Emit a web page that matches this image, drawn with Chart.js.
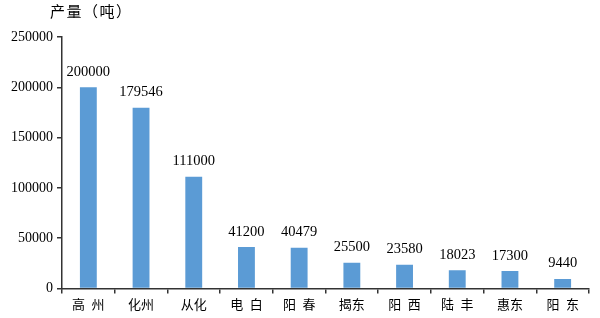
<!DOCTYPE html>
<html>
<head>
<meta charset="utf-8">
<script src="https://cdn.jsdelivr.net/npm/chart.js@4"></script>
<style>
  html, body { margin: 0; padding: 0; background: #fff; }
  #wrap { width: 600px; height: 318px; position: relative; }
</style>
</head>
<body>
<div id="wrap"><canvas id="c"></canvas></div>
<script>
// output by region, tonnes
const regions = ["高\u2002州", "化州", "从化", "电\u2002白", "阳\u2002春", "揭东", "阳\u2002西", "陆\u2002丰", "惠东", "阳\u2002东"];
const output = [200000, 179546, 111000, 41200, 40479, 25500, 23580, 18023, 17300, 9440];
const yTicks = [0, 50000, 100000, 150000, 200000, 250000];
const unitLabel = "产量（吨）";

const serif = "'Liberation Serif', 'Noto Sans CJK SC', serif";

// value above each bar + unit label at the top left
const labelsPlugin = {
  id: "barLabels",
  afterDatasetsDraw(chart) {
    const ctx = chart.ctx;
    const meta = chart.getDatasetMeta(0);
    ctx.save();
    ctx.fillStyle = "#000";
    ctx.font = "14.5px " + serif;
    ctx.textAlign = "center";
    ctx.textBaseline = "bottom";
    meta.data.forEach((bar, i) => {
      ctx.fillText(String(output[i]), bar.x, bar.y - 8);
    });
    ctx.font = "15px " + serif;
    ctx.letterSpacing = "1.5px";
    ctx.textAlign = "left";
    ctx.textBaseline = "middle";
    ctx.fillText(unitLabel, 50, 13);
    ctx.restore();
  }
};

new Chart(document.getElementById("c"), {
  type: "bar",
  data: {
    labels: regions,
    datasets: [{
      data: output,
      backgroundColor: "#5B9BD5",
      categoryPercentage: 1,
      barPercentage: 0.32
    }]
  },
  options: {
    responsive: true,
    maintainAspectRatio: false,
    animation: false,
    layout: { padding: { top: 37, right: 11, left: 0, bottom: 1 } },
    plugins: { legend: { display: false }, tooltip: { enabled: false } },
    scales: {
      x: {
        grid: { drawOnChartArea: false, offset: true, color: "#333", tickLength: 5, lineWidth: 1.5 },
        border: { color: "#333", width: 1.5 },
        ticks: { color: "#000", font: { family: serif, size: 13 }, padding: 4, maxRotation: 0 }
      },
      y: {
        min: 0,
        max: 250000,
        afterBuildTicks: (axis) => { axis.ticks = yTicks.map((v) => ({ value: v })); },
        afterFit: (axis) => { axis.width = 62; },
        grid: { drawOnChartArea: false, color: "#333", tickLength: 5, lineWidth: 1.5 },
        border: { color: "#333", width: 1.5 },
        ticks: { color: "#000", font: { family: serif, size: 14 }, padding: 4, callback: (v) => String(v) }
      }
    }
  },
  plugins: [labelsPlugin]
});
</script>
</body>
</html>
